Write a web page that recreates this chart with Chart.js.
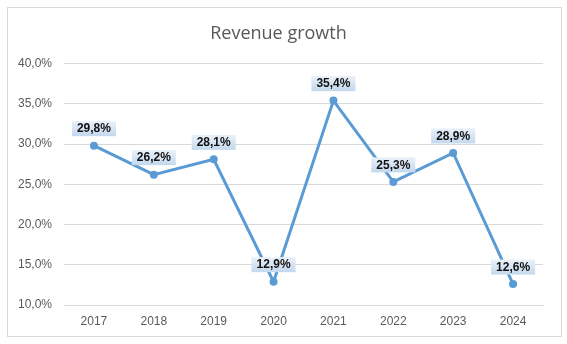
<!DOCTYPE html>
<html>
<head>
<meta charset="utf-8">
<script src="https://cdn.jsdelivr.net/npm/chart.js@4.4.1/dist/chart.umd.min.js"></script>
<style>
  html, body { margin: 0; padding: 0; background: #fff; }
  #wrap { width: 567px; height: 344px; }
</style>
</head>
<body>
<div id="wrap"><canvas id="growth"></canvas></div>
<script>
const years = ['2017', '2018', '2019', '2020', '2021', '2022', '2023', '2024'];
const growth = [29.8, 26.2, 28.1, 12.9, 35.4, 25.3, 28.9, 12.6];
const yTicks = [10, 15, 20, 25, 30, 35, 40];

const LINE = '#5b9bd5';
const fmtPct = v => v.toFixed(1).replace('.', ',') + '%';

// outer frame around the whole chart
const frame = {
  id: 'frame',
  beforeDraw(chart) {
    const c = chart.ctx;
    c.save();
    c.fillStyle = '#fff';
    c.fillRect(0, 0, chart.width, chart.height);
    c.strokeStyle = '#d9d9d9';
    c.lineWidth = 1;
    c.strokeRect(7.5, 7.5, 554, 329);
    c.restore();
  }
};

// value callouts with a pale blue gradient box above each point
const callouts = {
  id: 'callouts',
  afterDatasetsDraw(chart) {
    const c = chart.ctx;
    const meta = chart.getDatasetMeta(0);
    c.save();
    c.font = 'bold 12px "Liberation Sans", Arial, sans-serif';
    c.textAlign = 'center';
    c.textBaseline = 'middle';
    meta.data.forEach((pt, i) => {
      const txt = fmtPct(growth[i]);
      const w = c.measureText(txt).width + 10;
      const h = 15;
      const cx = pt.x, cy = pt.y - 17;
      const g = c.createLinearGradient(0, cy - h / 2, 0, cy + h / 2);
      g.addColorStop(0, '#eaf1f9');
      g.addColorStop(1, '#c3d8ee');
      c.fillStyle = g;
      c.fillRect(cx - w / 2, cy - h / 2, w, h);
      c.fillStyle = '#111';
      c.fillText(txt, cx, cy + 0.5);
    });
    c.restore();
  }
};

new Chart(document.getElementById('growth').getContext('2d'), {
  type: 'line',
  data: {
    labels: years,
    datasets: [{
      label: 'Revenue growth',
      data: growth,
      borderColor: LINE,
      backgroundColor: LINE,
      borderWidth: 3,
      pointRadius: 4,
      pointBackgroundColor: LINE,
      pointBorderWidth: 0,
      tension: 0
    }]
  },
  options: {
    responsive: true,
    maintainAspectRatio: false,
    animation: false,
    layout: { padding: { left: 14, right: 24, top: 0, bottom: 11 } },
    plugins: {
      legend: { display: false },
      tooltip: { enabled: false },
      title: {
        display: true,
        text: 'Revenue growth',
        color: '#595959',
        font: { family: '"Open Sans", sans-serif', size: 18, weight: 'normal' },
        padding: { top: 23, bottom: 19 }
      }
    },
    scales: {
      x: {
        offset: true,
        grid: { display: false },
        border: { color: '#d9d9d9' },
        ticks: { color: '#595959', font: { family: '"Liberation Sans", Arial, sans-serif', size: 12 }, padding: 1 },
        afterFit: s => { s.height = 28; }
      },
      y: {
        min: 10, max: 40,
        afterBuildTicks: s => { s.ticks = yTicks.map(v => ({ value: v })); },
        grid: { color: '#d9d9d9', drawTicks: false },
        border: { display: false },
        ticks: { color: '#595959', font: { family: '"Liberation Sans", Arial, sans-serif', size: 12 }, padding: 12, callback: v => fmtPct(v) },
        afterFit: s => { s.width = 50; }
      }
    }
  },
  plugins: [frame, callouts]
});
</script>
</body>
</html>
